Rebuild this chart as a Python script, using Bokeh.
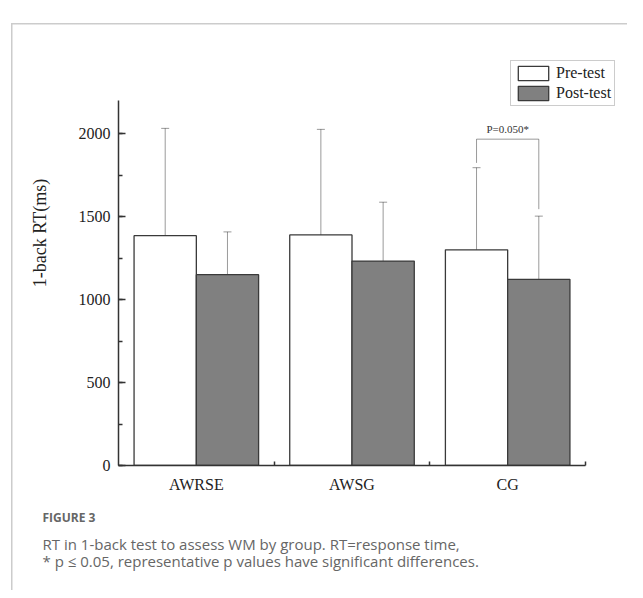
from bokeh.plotting import figure
from bokeh.models import (Range1d, FixedTicker, SingleIntervalTicker, Whisker, ColumnDataSource,
                          Label, Legend, LegendItem, TeeHead, Title)
from bokeh.embed import file_html
from bokeh.resources import INLINE

groups = ["AWRSE", "AWSG", "CG"]
pre_mean = [1385, 1390, 1300]
pre_upper = [2032, 2026, 1795]
pre_lower = [744, 757, 807]
post_mean = [1150, 1232, 1122]
post_upper = [1408, 1587, 1503]
post_lower = [892, 877, 744]
y_ticks = [0, 500, 1000, 1500, 2000]
y_axis_max = 2200
p_label = "P=0.050*"
bracket_y = 1967
bracket_left_bottom = 1824
bracket_right_bottom = 1545
caption_head = "FIGURE 3"
caption_lines = ["RT in 1-back test to assess WM by group. RT=response time,",
                 "* p \u2264 0.05, representative p values have significant differences."]

# layout (canvas pixels)
W, H = 627, 590
LEFT, BOTTOM = 118, 465          # y axis x-position, x axis y-position
AXIS_TOP = 100                   # pixel of y_axis_max
X_RIGHT = 585                    # pixel where third category ends
frame_h = BOTTOM
frame_w = W - LEFT
y_end = y_axis_max * frame_h / (BOTTOM - AXIS_TOP)
x_end = len(groups) * frame_w / (X_RIGHT - LEFT)

p = figure(width=W, height=H, output_backend="svg", toolbar_location=None,
           x_range=Range1d(0, x_end), y_range=Range1d(0, y_end),
           min_border_left=LEFT, min_border_right=0, min_border_top=0,
           min_border_bottom=H - BOTTOM)
p.outline_line_color = None
p.xgrid.visible = False
p.ygrid.visible = False
p.background_fill_alpha = 0
p.border_fill_alpha = 0
# card border lines (left and top) drawn behind the transparent canvas
p.styles = {
    "background-color": "white",
    "background-image": "linear-gradient(#cccccc, #cccccc), linear-gradient(#cccccc, #cccccc)",
    "background-size": "1.5px 2000px, 2000px 1.5px",
    "background-position": "11px 23px, 11px 23px",
    "background-repeat": "no-repeat",
}

serif = "Liberation Serif"
axcol = "#333333"

# y axis
ya = p.yaxis[0]
ya.bounds = (0, y_axis_max)
ya.ticker = SingleIntervalTicker(interval=500, num_minor_ticks=2)
ya.axis_line_color = axcol
ya.axis_line_width = 1.5
ya.major_tick_in = 7
ya.major_tick_out = 0
ya.minor_tick_in = 4
ya.minor_tick_out = 0
ya.major_tick_line_color = axcol
ya.minor_tick_line_color = axcol
ya.major_tick_line_width = 1.5
ya.minor_tick_line_width = 1.5
ya.major_label_text_font = serif
ya.major_label_text_font_size = "16px"
ya.major_label_text_color = "#222222"
ya.major_label_standoff = 8
ya.axis_label = "1-back RT(ms)"
ya.axis_label_text_font = serif
ya.axis_label_text_font_size = "18px"
ya.axis_label_text_font_style = "normal"
ya.axis_label_text_color = "#222222"
ya.axis_label_standoff = 26

# x axis
xa = p.xaxis[0]
xa.bounds = (0, len(groups))
centers = [i + 0.5 for i in range(len(groups))]
xa.ticker = FixedTicker(ticks=centers, minor_ticks=[i + 1 for i in range(len(groups))])
xa.major_label_overrides = {c: g for c, g in zip(centers, groups)}
xa.axis_line_color = axcol
xa.axis_line_width = 1.5
xa.major_tick_in = 0
xa.major_tick_out = 0
xa.minor_tick_in = 4
xa.minor_tick_out = 0
xa.minor_tick_line_color = axcol
xa.minor_tick_line_width = 1.5
xa.major_label_text_font = serif
xa.major_label_text_font_size = "16px"
xa.major_label_text_color = "#222222"
xa.major_label_standoff = 10

pre_x = [i + 0.3 for i in range(len(groups))]
post_x = [i + 0.7 for i in range(len(groups))]
src_pre = ColumnDataSource(dict(x=pre_x, top=pre_mean, lo=pre_lower, hi=pre_upper))
src_post = ColumnDataSource(dict(x=post_x, top=post_mean, lo=post_lower, hi=post_upper))

r_pre = p.vbar(x="x", top="top", width=0.4, source=src_pre, fill_color="white",
               line_color="#3a3a3a", line_width=1.3)
r_post = p.vbar(x="x", top="top", width=0.4, source=src_post, fill_color="#808080",
                line_color="#3a3a3a", line_width=1.3)

for s in (src_pre, src_post):
    w = Whisker(base="x", upper="hi", lower="lo", source=s, line_color="black", line_alpha=0.4,
                line_width=1,
                upper_head=TeeHead(size=8, line_color="black", line_alpha=0.4, line_width=1),
                lower_head=TeeHead(size=8, line_color="black", line_alpha=0.4, line_width=1))
    p.add_layout(w)

# significance bracket
p.line(x=[pre_x[2], pre_x[2], post_x[2], post_x[2]],
       y=[bracket_left_bottom, bracket_y, bracket_y, bracket_right_bottom],
       line_color="black", line_alpha=0.4, line_width=1)
p.add_layout(Label(x=(pre_x[2] + post_x[2]) / 2, y=bracket_y + 25, text=p_label,
                   text_font=serif, text_font_size="11px", text_color="#333333",
                   text_align="center", text_baseline="bottom"))

legend = Legend(items=[LegendItem(label="Pre-test", renderers=[r_pre]),
                       LegendItem(label="Post-test", renderers=[r_post])],
                location=(510 - LEFT, BOTTOM - 106), orientation="vertical",
                label_text_font=serif, label_text_font_size="16px", label_text_color="#222222",
                glyph_width=38, glyph_height=18, label_standoff=4, spacing=2, padding=3, margin=0,
                border_line_color="#999999", border_line_width=1, background_fill_color="white",
                background_fill_alpha=1, label_height=18)
p.add_layout(legend, "center")

# caption as left-aligned titles below the x axis
cap_x_offset = 42 - LEFT
p.add_layout(Title(text=caption_head, align="left", offset=cap_x_offset, standoff=23,
                   text_font="Open Sans", text_font_size="12px", text_font_style="bold",
                   text_color="#666666"), "below")
for i, line in enumerate(caption_lines):
    p.add_layout(Title(text=line, align="left", offset=cap_x_offset, standoff=-11 if i == 0 else 1,
                       text_font="Open Sans", text_font_size="15px", text_font_style="normal",
                       text_color="#666666"), "below")

open("out.html", "w").write(file_html(p, INLINE))
